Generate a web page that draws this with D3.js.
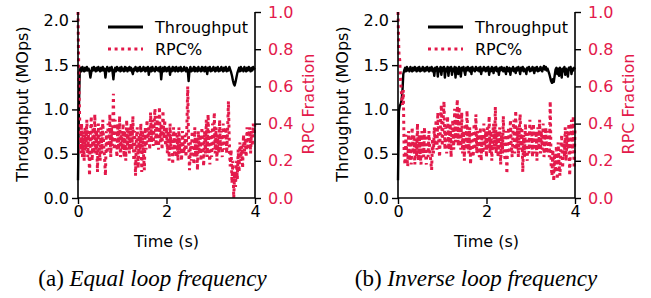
<!DOCTYPE html>
<html>
<head>
<meta charset="utf-8">
<script src="https://cdn.jsdelivr.net/npm/d3@7"></script>
<style>
  body { margin: 0; background: #fff; }
  svg text { font-family: "DejaVu Sans", sans-serif; }
</style>
</head>
<body>
<svg id="chart" width="651" height="298"></svg>
<script>
// === DATA ===
const tputStep = 0.02; // seconds between throughput samples
const rpcStep = 0.02;  // seconds between RPC fraction samples

const xTicks = [0, 2, 4];
const leftTicks = [0, 0.5, 1.0, 1.5, 2.0];
const rightTicks = [0, 0.2, 0.4, 0.6, 0.8, 1.0];
const captionLetters = ["(a) ", "(b) "];
const captionNames = ["Equal loop frequency", "Inverse loop frequency"];
const legendLabels = ["Throughput", "RPC%"];

// (a) equal loop frequency
const tputEqual = [
  0.20, 1.00, 1.44, 1.47, 1.43, 1.48, 1.45, 1.43, 1.47, 1.44,
  1.48, 1.44, 1.46, 1.43, 1.36, 1.42, 1.47, 1.44, 1.48, 1.45,
  1.43, 1.47, 1.44, 1.48, 1.45, 1.43, 1.47, 1.44, 1.48, 1.44,
  1.46, 1.36, 1.44, 1.48, 1.45, 1.43, 1.47, 1.44, 1.48, 1.43,
  1.34, 1.44, 1.47, 1.43, 1.48, 1.45, 1.44, 1.47, 1.43, 1.48,
  1.44, 1.46, 1.43, 1.48, 1.44, 1.47, 1.43, 1.46, 1.48, 1.44,
  1.47, 1.43, 1.40, 1.46, 1.44, 1.48, 1.45, 1.43, 1.47, 1.44,
  1.48, 1.43, 1.46, 1.44, 1.48, 1.45, 1.43, 1.47, 1.44, 1.48,
  1.39, 1.45, 1.47, 1.43, 1.48, 1.44, 1.46, 1.43, 1.48, 1.45,
  1.44, 1.47, 1.43, 1.48, 1.34, 1.44, 1.47, 1.43, 1.48, 1.45,
  1.43, 1.47, 1.44, 1.48, 1.39, 1.46, 1.43, 1.48, 1.44, 1.47,
  1.43, 1.48, 1.45, 1.43, 1.47, 1.44, 1.48, 1.43, 1.46, 1.44,
  1.48, 1.45, 1.43, 1.47, 1.44, 1.32, 1.44, 1.48, 1.43, 1.46,
  1.44, 1.48, 1.43, 1.47, 1.45, 1.43, 1.48, 1.44, 1.46, 1.43,
  1.48, 1.44, 1.47, 1.43, 1.48, 1.45, 1.40, 1.47, 1.44, 1.48,
  1.43, 1.46, 1.44, 1.48, 1.45, 1.43, 1.47, 1.44, 1.48, 1.43,
  1.46, 1.44, 1.48, 1.45, 1.43, 1.47, 1.44, 1.48, 1.43, 1.46,
  1.44, 1.48, 1.45, 1.42, 1.38, 1.33, 1.29, 1.27, 1.31, 1.36,
  1.41, 1.44, 1.47, 1.43, 1.48, 1.44, 1.46, 1.43, 1.48, 1.45,
  1.43, 1.47, 1.44, 1.48, 1.45, 1.43, 1.47, 1.44, 1.48, 1.46,
  1.45
];
const rpcEqual = [
  1.00, 0.62, 0.40, 0.24, 0.40, 0.22, 0.36, 0.20, 0.38, 0.26,
  0.42, 0.22, 0.36, 0.12, 0.32, 0.44, 0.20, 0.38, 0.24, 0.45,
  0.24, 0.36, 0.14, 0.40, 0.26, 0.20, 0.38, 0.24, 0.42, 0.28,
  0.22, 0.12, 0.36, 0.24, 0.40, 0.26, 0.45, 0.22, 0.38, 0.28,
  0.56, 0.26, 0.42, 0.30, 0.22, 0.40, 0.26, 0.44, 0.22, 0.36,
  0.26, 0.40, 0.22, 0.36, 0.20, 0.42, 0.26, 0.38, 0.24, 0.34,
  0.40, 0.26, 0.44, 0.20, 0.36, 0.12, 0.32, 0.38, 0.16, 0.34,
  0.24, 0.40, 0.14, 0.36, 0.24, 0.15, 0.38, 0.26, 0.42, 0.30,
  0.38, 0.26, 0.46, 0.30, 0.42, 0.28, 0.40, 0.48, 0.28, 0.38,
  0.44, 0.26, 0.49, 0.30, 0.40, 0.26, 0.47, 0.32, 0.42, 0.28,
  0.38, 0.24, 0.36, 0.20, 0.40, 0.26, 0.34, 0.18, 0.38, 0.24,
  0.36, 0.22, 0.34, 0.20, 0.38, 0.24, 0.32, 0.20, 0.36, 0.26,
  0.24, 0.34, 0.22, 0.38, 0.60, 0.28, 0.15, 0.30, 0.20, 0.36,
  0.26, 0.18, 0.38, 0.22, 0.32, 0.15, 0.36, 0.24, 0.34, 0.20,
  0.38, 0.26, 0.17, 0.36, 0.24, 0.42, 0.22, 0.45, 0.26, 0.18,
  0.36, 0.22, 0.40, 0.26, 0.46, 0.24, 0.38, 0.20, 0.34, 0.24,
  0.42, 0.26, 0.36, 0.22, 0.40, 0.26, 0.34, 0.38, 0.24, 0.36,
  0.52, 0.28, 0.17, 0.26, 0.08, 0.20, 0.00, 0.14, 0.06, 0.20,
  0.10, 0.26, 0.14, 0.30, 0.20, 0.28, 0.16, 0.34, 0.24, 0.32,
  0.22, 0.38, 0.26, 0.34, 0.38, 0.24, 0.36, 0.28, 0.40, 0.34,
  0.42
];

// (b) inverse loop frequency
const tputInverse = [
  0.20, 0.98, 1.04, 1.06, 1.10, 1.20, 1.40, 1.44, 1.47, 1.43,
  1.48, 1.44, 1.46, 1.43, 1.48, 1.45, 1.43, 1.47, 1.44, 1.48,
  1.45, 1.43, 1.47, 1.44, 1.48, 1.43, 1.46, 1.44, 1.48, 1.45,
  1.43, 1.47, 1.44, 1.48, 1.45, 1.43, 1.47, 1.44, 1.48, 1.43,
  1.46, 1.38, 1.47, 1.44, 1.48, 1.37, 1.46, 1.43, 1.48, 1.39,
  1.47, 1.44, 1.48, 1.36, 1.46, 1.43, 1.48, 1.38, 1.47, 1.44,
  1.48, 1.39, 1.46, 1.43, 1.48, 1.36, 1.47, 1.44, 1.40, 1.48,
  1.45, 1.37, 1.47, 1.44, 1.48, 1.43, 1.39, 1.47, 1.44, 1.48,
  1.45, 1.43, 1.47, 1.40, 1.48, 1.44, 1.46, 1.43, 1.48, 1.45,
  1.44, 1.47, 1.43, 1.48, 1.40, 1.46, 1.44, 1.48, 1.45, 1.43,
  1.47, 1.44, 1.48, 1.39, 1.46, 1.43, 1.48, 1.45, 1.41, 1.47,
  1.44, 1.48, 1.43, 1.46, 1.39, 1.47, 1.44, 1.48, 1.45, 1.43,
  1.47, 1.44, 1.40, 1.48, 1.45, 1.43, 1.47, 1.39, 1.46, 1.44,
  1.48, 1.43, 1.46, 1.41, 1.47, 1.44, 1.48, 1.45, 1.40, 1.47,
  1.44, 1.48, 1.43, 1.46, 1.44, 1.40, 1.47, 1.45, 1.48, 1.43,
  1.46, 1.44, 1.48, 1.45, 1.41, 1.47, 1.44, 1.48, 1.43, 1.46,
  1.44, 1.48, 1.45, 1.43, 1.47, 1.49, 1.45, 1.48, 1.44, 1.46,
  1.43, 1.40, 1.36, 1.32, 1.30, 1.34, 1.31, 1.38, 1.45, 1.47,
  1.40, 1.46, 1.38, 1.47, 1.44, 1.36, 1.46, 1.43, 1.48, 1.39,
  1.46, 1.44, 1.37, 1.47, 1.45, 1.48, 1.40, 1.46, 1.44, 1.47,
  1.45
];
const rpcInverse = [
  1.00, 0.78, 0.74, 0.62, 0.56, 0.50, 0.58, 0.22, 0.18, 0.34,
  0.22, 0.17, 0.36, 0.20, 0.32, 0.18, 0.38, 0.24, 0.34, 0.18,
  0.32, 0.22, 0.40, 0.20, 0.34, 0.24, 0.18, 0.36, 0.26, 0.22,
  0.38, 0.24, 0.18, 0.34, 0.22, 0.36, 0.26, 0.20, 0.15, 0.32,
  0.24, 0.38, 0.28, 0.42, 0.26, 0.46, 0.30, 0.22, 0.40, 0.50,
  0.28, 0.42, 0.52, 0.26, 0.38, 0.24, 0.44, 0.30, 0.26, 0.40,
  0.22, 0.36, 0.42, 0.26, 0.48, 0.30, 0.40, 0.53, 0.28, 0.49,
  0.32, 0.26, 0.46, 0.24, 0.36, 0.20, 0.40, 0.26, 0.47, 0.28,
  0.24, 0.38, 0.18, 0.36, 0.26, 0.22, 0.40, 0.26, 0.45, 0.24,
  0.36, 0.26, 0.22, 0.38, 0.20, 0.34, 0.24, 0.40, 0.26, 0.36,
  0.22, 0.38, 0.26, 0.44, 0.24, 0.36, 0.20, 0.34, 0.40, 0.26,
  0.49, 0.24, 0.36, 0.22, 0.32, 0.38, 0.18, 0.34, 0.24, 0.44,
  0.26, 0.20, 0.36, 0.13, 0.32, 0.38, 0.24, 0.42, 0.28, 0.22,
  0.36, 0.42, 0.24, 0.47, 0.26, 0.38, 0.22, 0.36, 0.45, 0.26,
  0.38, 0.14, 0.34, 0.22, 0.40, 0.26, 0.20, 0.36, 0.24, 0.42,
  0.26, 0.38, 0.22, 0.40, 0.28, 0.24, 0.36, 0.20, 0.38, 0.26,
  0.42, 0.24, 0.36, 0.26, 0.40, 0.22, 0.34, 0.38, 0.24, 0.36,
  0.26, 0.22, 0.52, 0.18, 0.12, 0.26, 0.09, 0.24, 0.14, 0.28,
  0.10, 0.30, 0.18, 0.12, 0.26, 0.34, 0.16, 0.30, 0.22, 0.38,
  0.20, 0.36, 0.26, 0.40, 0.12, 0.30, 0.42, 0.24, 0.44, 0.16,
  0.38
];

const panels = [
  { tput: tputEqual, rpc: rpcEqual },
  { tput: tputInverse, rpc: rpcInverse }
];

// === LAYOUT ===
const panelOffset = 320;
const plotLeft = 78, plotRight = 255, plotTop = 12, plotBottom = 198;
const red = "#e31a4b";
const fontSize = 16;

const svg = d3.select("#chart");

function drawPanel(p, i) {
  const g = svg.append("g").attr("transform", "translate(" + (i * panelOffset) + ",0)");

  const x = d3.scaleLinear().domain([0, 4]).range([plotLeft, plotRight]);
  const yL = d3.scaleLinear().domain([0, 2.1]).range([plotBottom, plotTop]);
  const yR = d3.scaleLinear().domain([0, 1]).range([plotBottom, plotTop]);

  // lines first, axes after
  const tputLine = d3.line()
    .x((d, k) => x(k * tputStep))
    .y(d => yL(d));
  const rpcLine = d3.line()
    .x((d, k) => x(k * rpcStep))
    .y(d => yR(d));

  g.append("path")
    .datum(p.tput)
    .attr("d", tputLine)
    .attr("fill", "none")
    .attr("stroke", "black")
    .attr("stroke-width", 2.4)
    .attr("stroke-linejoin", "round");

  g.append("path")
    .datum(p.rpc)
    .attr("d", rpcLine)
    .attr("fill", "none")
    .attr("stroke", red)
    .attr("stroke-width", 3)
    .attr("stroke-dasharray", "3,3.6");

  // axes
  const xAxis = g.append("g")
    .attr("transform", "translate(0," + plotBottom + ")")
    .call(d3.axisBottom(x).tickValues(xTicks).tickFormat(d3.format("d")).tickSize(6).tickPadding(2));
  const leftAxis = g.append("g")
    .attr("transform", "translate(" + plotLeft + ",0)")
    .call(d3.axisLeft(yL).tickValues(leftTicks).tickFormat(d3.format(".1f")).tickSize(6).tickPadding(3));
  const rightAxis = g.append("g")
    .attr("transform", "translate(" + plotRight + ",0)")
    .call(d3.axisRight(yR).tickValues(rightTicks).tickFormat(d3.format(".1f")).tickSize(6).tickPadding(7));

  [xAxis, leftAxis, rightAxis].forEach(a => {
    a.select(".domain").remove();
    a.selectAll(".tick line").attr("stroke", "black").attr("stroke-width", 1.4);
    a.selectAll(".tick text").attr("font-size", fontSize).attr("fill", "black")
      .attr("font-family", "DejaVu Sans");
  });
  rightAxis.selectAll(".tick text").attr("fill", red);

  // spines: left, right, bottom
  g.append("path")
    .attr("d", "M" + plotLeft + "," + plotTop + "V" + plotBottom + "H" + plotRight + "V" + plotTop)
    .attr("fill", "none")
    .attr("stroke", "black")
    .attr("stroke-width", 1.6);

  // axis labels
  g.append("text")
    .attr("x", (plotLeft + plotRight) / 2)
    .attr("y", 246.5)
    .attr("text-anchor", "middle")
    .attr("font-size", fontSize)
    .text("Time (s)");
  g.append("text")
    .attr("transform", "translate(27.5,104) rotate(-90)")
    .attr("text-anchor", "middle")
    .attr("font-size", fontSize)
    .text("Throughput (MOps)");
  g.append("text")
    .attr("transform", "translate(313.5,104) rotate(-90)")
    .attr("text-anchor", "middle")
    .attr("font-size", fontSize)
    .attr("fill", red)
    .text("RPC Fraction");

  // legend
  const legend = g.append("g");
  legendLabels.forEach((lab, k) => {
    const ly = 27 + k * 22;
    legend.append("line")
      .attr("x1", 108).attr("x2", 143)
      .attr("y1", ly).attr("y2", ly)
      .attr("stroke", k === 0 ? "black" : red)
      .attr("stroke-width", 2.8)
      .attr("stroke-dasharray", k === 0 ? null : "3,3.6");
    legend.append("text")
      .attr("x", 155)
      .attr("y", ly + 6)
      .attr("font-size", fontSize)
      .text(lab);
  });

  // caption: roman letter, italic name
  const cap = g.append("text")
    .attr("x", i === 0 ? 152.5 : 156)
    .attr("y", 286)
    .attr("text-anchor", "middle")
    .attr("font-size", 23)
    .style("font-family", "'Liberation Serif', 'Times New Roman', serif");
  cap.append("tspan").text(captionLetters[i]);
  cap.append("tspan").attr("font-style", "italic").text(captionNames[i]);
}

panels.forEach(drawPanel);
</script>
</body>
</html>
